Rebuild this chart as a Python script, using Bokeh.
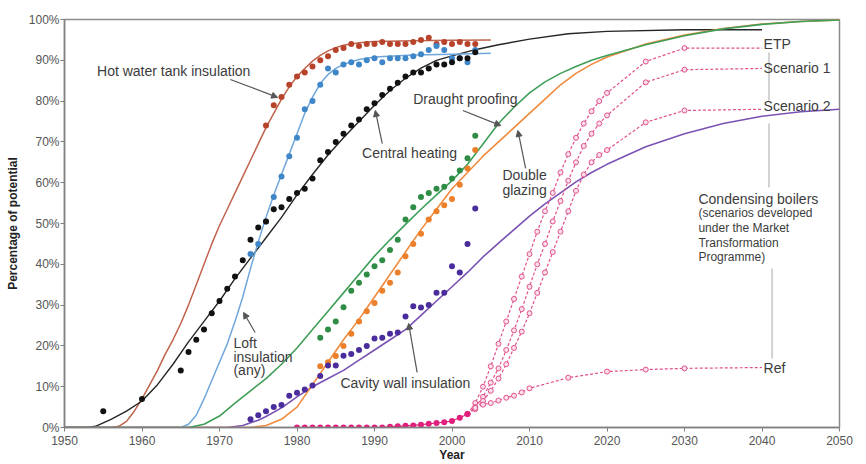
import math
from bokeh.plotting import figure
from bokeh.models import (Range1d, FixedTicker, PrintfTickFormatter, Label, Arrow,
                          NormalHead)
from bokeh.embed import file_html
from bokeh.resources import INLINE

# ---------------- data ----------------
x_ticks = [1950, 1960, 1970, 1980, 1990, 2000, 2010, 2020, 2030, 2040, 2050]
y_ticks = [0, 10, 20, 30, 40, 50, 60, 70, 80, 90, 100]

# Hot water tank insulation
hw_curve_x = [1950, 1956, 1957, 1958, 1959, 1960, 1961, 1962, 1963, 1964, 1965, 1966, 1967, 1968, 1969,
              1970, 1971, 1972, 1973, 1974, 1975, 1976, 1977, 1978, 1979, 1980, 1981, 1982, 1983,
              1984, 1985, 1986, 1988, 1990, 1995, 2000, 2005]
hw_curve_y = [0, 0, 0.3, 1.5, 4, 7, 10.5, 14, 18, 21.5, 25.5, 30, 35, 40, 45,
              49.5, 53.5, 57.5, 61.5, 65.5, 69.5, 73.5, 77, 80.5, 83.5, 86, 88, 89.8, 91.2,
              92.3, 93.1, 93.7, 94.3, 94.6, 94.8, 94.9, 95]
hw_dot_x = [1976, 1977, 1978, 1979, 1980, 1981, 1982, 1983, 1984, 1985, 1986, 1987, 1988, 1989,
            1990, 1991, 1992, 1993, 1994, 1995, 1996, 1997, 1998, 1999, 2000, 2001, 2002, 2003]
hw_dot_y = [74, 79, 81, 84, 86, 87, 88.5, 90, 91, 92.5, 93, 94, 93.5, 94,
            94, 94.5, 94, 94, 94, 94.5, 95, 95.5, 94, 94.5, 94, 94.5, 94, 94]

# Loft insulation (any)
lo_curve_x = [1950, 1965, 1966, 1967, 1968, 1969, 1970, 1971, 1972, 1973, 1974, 1975, 1976, 1977, 1978,
              1979, 1980, 1981, 1982, 1983, 1984, 1985, 1986, 1988, 1990, 1995, 2000, 2005]
lo_curve_y = [0, 0, 0.8, 3, 7, 11.5, 16, 20.5, 26, 32, 39, 45.5, 51.5, 57, 62,
              67, 72, 77, 81, 84.3, 86.5, 88, 89, 90.2, 90.8, 91.3, 91.5, 91.7]
lo_dot_x = [1974, 1975, 1976, 1977, 1978, 1979, 1980, 1981, 1982, 1983, 1984, 1985, 1986, 1987, 1988,
            1989, 1990, 1991, 1992, 1993, 1994, 1995, 1996, 1997, 1998, 1999, 2000, 2001, 2002, 2003]
lo_dot_y = [42.5, 45, 50.5, 56.5, 61.5, 66.5, 71, 78, 80, 84, 88, 87, 89, 89.5, 89,
            90, 90.5, 89.5, 90.5, 90.5, 90.5, 91, 91.5, 92.5, 93.5, 92.5, 90.5, 90.5, 89.5, 92.5]

# Central heating
ch_curve_x = [1950, 1953, 1954, 1956, 1958, 1960, 1962, 1964, 1966, 1968, 1970, 1972, 1974, 1976, 1978,
              1980, 1982, 1984, 1986, 1988, 1990, 1992, 1994, 1996, 1998, 2000, 2003, 2006, 2010,
              2015, 2020, 2030, 2040]
ch_curve_y = [0, 0, 0.3, 2, 4, 6.5, 10.5, 15.5, 21, 26, 31, 36.5, 41.5, 46.5, 51.5,
              57, 62, 66.8, 71, 75, 79, 82.6, 85.6, 88.1, 90, 91.1, 92.6, 93.8, 95.2,
              96.5, 97.1, 97.5, 97.5]
ch_dot_x = [1955, 1960, 1965, 1966, 1967, 1968, 1969, 1970, 1971, 1972, 1973, 1974, 1975, 1976,
            1977, 1978, 1979, 1980, 1981, 1982, 1983, 1984, 1985, 1986, 1987, 1988, 1989, 1990,
            1991, 1992, 1993, 1994, 1995, 1996, 1997, 1998, 1999, 2000, 2001, 2002, 2003]
ch_dot_y = [4, 7, 14, 18.5, 21.5, 24, 28, 31, 34, 37, 41, 46, 49, 50.5,
            53.5, 54, 56, 57.5, 58.5, 61, 65.5, 67.5, 70, 72, 74, 75.5, 78, 79.5,
            81.5, 83, 84.5, 86, 87, 87, 88, 89, 89, 89.5, 90.5, 90.5, 92]

# Draught proofing
dp_curve_x = [1950, 1966, 1968, 1970, 1972, 1974, 1976, 1978, 1980, 1982, 1984, 1986, 1988, 1990, 1992,
              1994, 1996, 1998, 2000, 2002, 2004, 2006, 2008, 2010, 2012, 2014, 2016, 2018, 2020,
              2025, 2030, 2035, 2040, 2045, 2050]
dp_curve_y = [0, 0, 0.8, 2.8, 6, 9, 12, 15.5, 19.5, 24, 28.5, 33, 37.5, 42, 46,
              49.8, 53.5, 57, 60.5, 64.5, 69.5, 74.5, 78.5, 82, 84.7, 86.8, 88.5, 90, 91.2,
              93.8, 96, 97.7, 98.8, 99.5, 99.9]
dp_dot_x = [1983, 1984, 1985, 1986, 1987, 1988, 1989, 1990, 1991, 1992, 1993, 1994, 1995, 1996,
            1997, 1998, 1999, 2000, 2001, 2002, 2003]
dp_dot_y = [22, 24, 26, 29.5, 33.5, 35.5, 37.5, 39.5, 41, 43.5, 46, 51, 54, 56.5,
            57.5, 58.5, 59, 61, 63, 66, 71.5]

# Double glazing
dg_curve_x = [1950, 1974, 1976, 1978, 1980, 1982, 1984, 1986, 1988, 1990, 1992, 1994, 1996, 1998, 2000,
              2002, 2004, 2006, 2008, 2010, 2012, 2014, 2016, 2018, 2020, 2025, 2030, 2035, 2040,
              2045, 2050]
dg_curve_y = [0, 0, 0.5, 2, 5, 10.5, 16, 21.5, 26.5, 32, 37.5, 43, 48.5, 53.5, 58.5,
              62.5, 66.5, 70, 73.5, 77, 80.5, 84, 86.8, 89, 90.8, 94, 96.2, 97.8, 98.9,
              99.5, 99.9]
dg_dot_x = [1983, 1984, 1985, 1986, 1987, 1988, 1989, 1990, 1991, 1992, 1993, 1994, 1995, 1996,
            1997, 1998, 1999, 2000, 2001, 2002, 2003]
dg_dot_y = [15, 16, 17.5, 20, 23, 26, 28.5, 30.5, 33.5, 35.5, 38, 42, 45, 47.5,
            51, 53, 54.5, 56, 59.5, 63.5, 68]

# Cavity wall insulation
cw_curve_x = [1950, 1971, 1973, 1975, 1976, 1978, 1980, 1982, 1984, 1986, 1988, 1990, 1992, 1994, 1996,
              1998, 2000, 2002, 2004, 2006, 2008, 2010, 2012, 2014, 2016, 2018, 2020, 2025, 2030,
              2035, 2040, 2045, 2050]
cw_curve_y = [0, 0, 0.5, 1.8, 2.7, 4.8, 7.5, 10, 12, 14, 16.5, 19, 21.5, 24, 27.5,
              31, 34.5, 38, 41.8, 45.2, 48.5, 51.8, 54.8, 57.5, 60.2, 62.5, 64.5, 68.8, 72,
              74.5, 76.3, 77.4, 78]
cw_dot_x = [1974, 1975, 1976, 1977, 1978, 1979, 1980, 1981, 1982, 1983, 1984, 1985, 1986, 1987, 1988,
            1989, 1990, 1991, 1992, 1993, 1994, 1995, 1996, 1997, 1998, 1999, 2000, 2001, 2002, 2003]
cw_dot_y = [2, 3, 4, 5, 5.5, 7.8, 8.5, 9.3, 10.3, 12.6, 15.2, 15.2, 17.6, 18, 19,
            20, 21.8, 22, 23, 23.3, 27.2, 29.7, 29.4, 30, 33, 33, 39.5, 38, 45, 53.7]

# Condensing boilers: history and scenarios
cb_dot_x = [1980, 1981, 1982, 1983, 1984, 1985, 1986, 1987, 1988, 1989, 1990, 1991, 1992, 1993,
            1994, 1995, 1996, 1997, 1998, 1999, 2000, 2001, 2002]
cb_dot_y = [0, 0, 0, 0, 0, 0, 0, 0, 0, 0, 0, 0, 0.2, 0.3,
            0.4, 0.5, 0.7, 0.9, 1.1, 1.3, 1.6, 2.4, 3.3]
sc_x = [2002, 2003, 2004, 2005, 2006, 2007, 2008, 2009, 2010, 2011, 2012, 2013, 2014, 2015,
        2016, 2017, 2018, 2019, 2020, 2025, 2030, 2040]
etp_y = [3.3, 6, 10, 15, 20.5, 26, 31.5, 37, 42.5, 48, 53, 57.5, 62.5, 67,
         71, 74.5, 77.5, 80, 82, 89.7, 93, 93]
s1_y = [3.3, 5, 7.5, 11, 14.5, 19, 23.8, 29, 34.5, 40, 45, 50.5, 55.5, 60.5,
        65, 69, 72, 74.5, 76.5, 84.6, 87.7, 88]
s2_y = [3.3, 4.5, 6.5, 9, 12, 15.5, 19.5, 23.5, 28, 33, 38, 43, 48, 53,
        58, 62, 65, 66.8, 68, 74.8, 77.7, 78]
ref_x = [2002, 2003, 2004, 2005, 2006, 2007, 2008, 2009, 2010, 2015, 2020, 2025, 2030, 2040]
ref_y = [3.3, 4.8, 5.6, 6, 6.6, 7.3, 7.8, 8.6, 9.6, 12.2, 13.7, 14.2, 14.5, 14.7]

# ---------------- figure ----------------
FONT = "Liberation Sans"
TXT = "#3c3c3c"

p = figure(width=866, height=464, x_range=Range1d(1950, 2050), y_range=Range1d(0, 100),
           output_backend="svg", toolbar_location=None,
           min_border_left=64, min_border_right=27, min_border_top=19, min_border_bottom=37)
p.xgrid.visible = False
p.ygrid.visible = False
p.background_fill_color = "white"
p.border_fill_color = "white"
p.outline_line_color = "#8c8c8c"
p.outline_line_width = 1.5

for ax in (p.xaxis[0], p.yaxis[0]):
    ax.axis_line_color = "#808080"
    ax.axis_line_width = 1.5
    ax.major_tick_line_color = "#808080"
    ax.major_tick_in = 0
    ax.major_tick_out = 4
    ax.minor_tick_line_color = None
    ax.major_label_text_font = FONT
    ax.major_label_text_font_size = "12px"
    ax.major_label_text_color = "#555555"
    ax.axis_label_text_font = FONT
    ax.axis_label_text_font_size = "12px"
    ax.axis_label_text_font_style = "bold"
    ax.axis_label_text_color = "#222222"
p.xaxis.ticker = FixedTicker(ticks=x_ticks)
p.yaxis.ticker = FixedTicker(ticks=y_ticks)
p.yaxis.formatter = PrintfTickFormatter(format="%d%%")
p.yaxis.major_label_standoff = 1
p.xaxis.major_label_standoff = 4
p.xaxis.axis_label = "Year"
p.xaxis.axis_label_standoff = 0
p.yaxis.axis_label = "Percentage of potential"
p.yaxis.axis_label_standoff = 6

# curves
p.line(hw_curve_x, hw_curve_y, line_color="#c0634c", line_width=1.5)
p.line(ch_curve_x, ch_curve_y, line_color="#262626", line_width=1.4)
p.line(lo_curve_x, lo_curve_y, line_color="#6fa6db", line_width=1.5)
p.line(cw_curve_x, cw_curve_y, line_color="#7a52b3", line_width=1.6)
p.line(dg_curve_x, dg_curve_y, line_color="#f08a3c", line_width=1.6)
p.line(dp_curve_x, dp_curve_y, line_color="#3f9e58", line_width=1.6)

# scenario lines
PINK = "#e2508e"
for ys in (etp_y, s1_y, s2_y):
    p.line(sc_x, ys, line_color=PINK, line_width=1.2, line_dash="3 2")
    p.scatter(sc_x[:-1], ys[:-1], marker="circle", size=5, fill_color="#fbe0ea",
              line_color=PINK, line_width=1)
p.line(ref_x, ref_y, line_color=PINK, line_width=1.2, line_dash="3 2")
p.scatter(ref_x[:-1], ref_y[:-1], marker="circle", size=5, fill_color="#fbe0ea",
          line_color=PINK, line_width=1)
p.line(cb_dot_x, cb_dot_y, line_color="#e0287f", line_width=1.2)
p.scatter(cb_dot_x, cb_dot_y, marker="circle", size=6, fill_color="#e0207c", line_color=None)

# dots
p.scatter(hw_dot_x, hw_dot_y, size=6, fill_color="#b8432a", line_color=None)
p.scatter(lo_dot_x, lo_dot_y, size=6, fill_color="#3f86c8", line_color=None)
p.scatter(ch_dot_x, ch_dot_y, size=6, fill_color="#111111", line_color=None)
p.scatter(dp_dot_x, dp_dot_y, size=6, fill_color="#2f8c45", line_color=None)
p.scatter(dg_dot_x, dg_dot_y, size=6, fill_color="#ec7f2a", line_color=None)
p.scatter(cw_dot_x, cw_dot_y, size=6, fill_color="#4a2c9c", line_color=None)

# vertical grey guide lines near the scenario labels
p.segment(x0=[2040.9, 2040.9, 2041.3], y0=[91.9, 74.5, 39.0],
          x1=[2040.9, 2040.9, 2041.3], y1=[80.1, 58.8, 16.9],
          line_color="#d2d2d2", line_width=2)

# annotations
def lab(x, y, t, size="14px", style="normal", align="left", color=TXT):
    p.add_layout(Label(x=x, y=y, text=t, text_font=FONT, text_font_size=size,
                       text_font_style=style, text_color=color, text_align=align,
                       text_baseline="middle"))

lab(1954.2, 87.5, "Hot water tank insulation")
lab(1988.4, 67.4, "Central heating")
lab(1995.0, 80.6, "Draught proofing")
lab(2006.5, 61.8, "Double")
lab(2006.5, 58.3, "glazing")
lab(1971.8, 20.6, "Loft")
lab(1971.8, 17.2, "insulation")
lab(1971.8, 14.0, "(any)")
lab(1985.6, 11.0, "Cavity wall insulation")
lab(2040.2, 94.1, "ETP")
lab(2040.2, 88.0, "Scenario 1")
lab(2040.2, 78.9, "Scenario 2")
lab(2040.2, 14.7, "Ref")
lab(2031.8, 56.1, "Condensing boilers")
lab(2031.8, 52.5, "(scenarios developed", size="12px")
lab(2031.8, 48.8, "under the Market", size="12px")
lab(2031.8, 45.3, "Transformation", size="12px")
lab(2031.8, 41.9, "Programme)", size="12px")

arrows = [
    (1971.4, 85.3, 1977.5, 80.9),
    (1991.0, 69.6, 1990.1, 77.7),
    (2001.4, 77.7, 2006.3, 74.0),
    (2009.5, 63.5, 2008.5, 72.8),
    (1974.6, 23.3, 1973.1, 28.2),
    (1995.5, 13.5, 1994.4, 25.5),
]
for xs, ys, xe, ye in arrows:
    p.add_layout(Arrow(end=NormalHead(size=6, fill_color="#555555", line_color="#555555"),
                       x_start=xs, y_start=ys, x_end=xe, y_end=ye,
                       line_color="#555555", line_width=1.2))

open("out.html", "w").write(file_html(p, INLINE))
